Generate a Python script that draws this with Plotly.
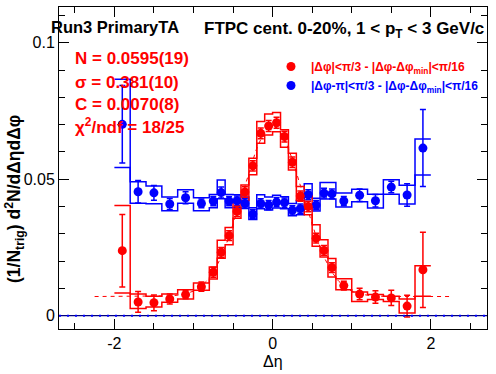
import numpy as np
import plotly.graph_objects as go

# ---------------- data ----------------
bin_edges = [-2.0, -1.8, -1.6, -1.4, -1.2, -1.0, -0.8, -0.7, -0.6, -0.5, -0.4, -0.3, -0.2, -0.1,
             0.0, 0.1, 0.2, 0.3, 0.4, 0.5, 0.6, 0.7, 0.8, 1.0, 1.2, 1.4, 1.6, 1.8, 2.0]

red_val = [0.0238, 0.0050, 0.0047, 0.0061, 0.0077, 0.0106, 0.0159, 0.0232, 0.0293, 0.0382,
           0.0453, 0.0549, 0.0668, 0.0695, 0.0707, 0.0656, 0.0562, 0.0438, 0.0400, 0.0284,
           0.0239, 0.0176, 0.0110, 0.0079, 0.0068, 0.0065, 0.0035, 0.0168]
red_err = [0.0133, 0.0038, 0.0029, 0.0018, 0.0015, 0.0017, 0.0018, 0.0018, 0.0018, 0.0019,
           0.0019, 0.0019, 0.0020, 0.0020, 0.0020, 0.0020, 0.0019, 0.0019, 0.0019, 0.0018,
           0.0018, 0.0018, 0.0016, 0.0021, 0.0023, 0.0028, 0.0040, 0.0138]
red_sys_up = [0.0166, 0.0029, 0.0024, 0.0018, 0.0018, 0.0014, 0.0019, 0.0044, 0.0030, 0.0036,
              0.0026, 0.0028, 0.0043, 0.0044, 0.0037, 0.0025, 0.0033, 0.0035, 0.0039, 0.0049,
              0.0039, 0.0033, 0.0025, 0.0008, 0.0009, 0.0006, 0.0026, 0.0015]
red_sys_dn = [0.0155, 0.0024, 0.0015, 0.0012, 0.0016, 0.0013, 0.0025, 0.0022, 0.0033, 0.0025,
              0.0031, 0.0033, 0.0036, 0.0033, 0.0033, 0.0039, 0.0028, 0.0016, 0.0030, 0.0030,
              0.0024, 0.0034, 0.0015, 0.0027, 0.0009, 0.0013, 0.0025, 0.0097]

blue_val = [0.0701, 0.0454, 0.0450, 0.0409, 0.0432, 0.0411, 0.0420, 0.0451, 0.0420, 0.0421,
            0.0411, 0.0372, 0.0411, 0.0405, 0.0416, 0.0414, 0.0386, 0.0392, 0.0443, 0.0405,
            0.0449, 0.0446, 0.0420, 0.0441, 0.0421, 0.0471, 0.0442, 0.0614]
blue_err = [0.0142, 0.0041, 0.0027, 0.0020, 0.0022, 0.0016, 0.0017, 0.0020, 0.0017, 0.0017,
            0.0017, 0.0017, 0.0017, 0.0017, 0.0017, 0.0017, 0.0017, 0.0017, 0.0018, 0.0017,
            0.0018, 0.0018, 0.0017, 0.0023, 0.0023, 0.0021, 0.0041, 0.0141]
blue_sys_up = [0.0165, 0.0037, 0.0025, 0.0026, 0.0029, 0.0021, 0.0024, 0.0046, 0.0024, 0.0022,
               0.0024, 0.0023, 0.0032, 0.0030, 0.0025, 0.0022, 0.0025, 0.0030, 0.0040, 0.0025,
               0.0039, 0.0042, 0.0029, 0.0022, 0.0024, 0.0027, 0.0036, 0.0033]
blue_sys_dn = [0.0158, 0.0042, 0.0040, 0.0025, 0.0020, 0.0027, 0.0025, 0.0023, 0.0025, 0.0024,
               0.0018, 0.0020, 0.0019, 0.0018, 0.0022, 0.0022, 0.0020, 0.0022, 0.0037, 0.0022,
               0.0022, 0.0019, 0.0022, 0.0024, 0.0027, 0.0026, 0.0033, 0.0099]

# fit parameters (Gaussian + constant) of the near-side peak
fit_N = 0.0595
fit_sigma = 0.381
fit_C = 0.0070
fit_range = [-2.25, 2.25]

x_ticks = [-2, 0, 2]
y_ticks = [0, 0.05, 0.1]

RED = "#ff0000"
BLUE = "#0000ff"
FONT = "Liberation Sans"

edges = np.array(bin_edges)
centers = 0.5 * (edges[:-1] + edges[1:])


def step_xy(vals):
    y = list(vals) + [vals[-1]]
    return list(edges), y


fig = go.Figure()


def add_sys(val, up, dn, color):
    val = np.array(val)
    for bound in (val + np.array(up), val - np.array(dn)):
        xs, ys = step_xy(list(bound))
        fig.add_trace(go.Scatter(x=xs, y=ys, mode="lines", line=dict(color=color, width=1.5, shape="hv"),
                                 showlegend=False, hoverinfo="skip"))


add_sys(blue_val, blue_sys_up, blue_sys_dn, BLUE)
add_sys(red_val, red_sys_up, red_sys_dn, RED)

# fit curve
xf = np.linspace(fit_range[0], fit_range[1], 600)
yf = fit_C + fit_N / (np.sqrt(2 * np.pi) * fit_sigma) * np.exp(-xf ** 2 / (2 * fit_sigma ** 2))
fig.add_trace(go.Scatter(x=xf, y=yf, mode="lines", line=dict(color=RED, width=1, dash="4px,4px"),
                         showlegend=False, hoverinfo="skip"))

lab_red = '<span style="color:#ff0000"><b>|Δφ|&lt;π/3 - |Δφ-Δφ<sub>min</sub>|&lt;π/16</b></span>'
lab_blue = '<span style="color:#0000ff"><b>|Δφ-π|&lt;π/3 - |Δφ-Δφ<sub>min</sub>|&lt;π/16</b></span>'

fig.add_trace(go.Scatter(x=centers, y=blue_val, mode="markers", name=lab_blue, legendrank=2,
                         marker=dict(color=BLUE, size=9, symbol="circle"),
                         error_y=dict(type="data", array=blue_err, color=BLUE, thickness=1.5, width=3)))
fig.add_trace(go.Scatter(x=centers, y=red_val, mode="markers", name=lab_red, legendrank=1,
                         marker=dict(color=RED, size=9, symbol="circle"),
                         error_y=dict(type="data", array=red_err, color=RED, thickness=1.5, width=3)))

# zero line
fig.add_shape(type="line", xref="paper", x0=0, x1=1, yref="y", y0=0, y1=0,
              line=dict(color="#000080", width=1.2))
fig.add_shape(type="line", xref="paper", x0=0, x1=1, yref="y", y0=0, y1=0,
              line=dict(color=BLUE, width=2, dash="2px,6px"))

L, R, T, B = 59, 9, 7, 45
W, H = 496, 374
PW, PH = W - L - R, H - T - B


def px(xpix):
    return (xpix - L) / PW


def py(ypix):
    return 1 - (ypix - T) / PH


annotations = []
annotations.append(dict(text="<b>Run3 PrimaryTA</b>", x=px(49), y=py(27), xref="paper", yref="paper",
                        xanchor="left", yanchor="middle", showarrow=False,
                        font=dict(family=FONT, size=16.5, color="black")))
annotations.append(dict(text="<b>FTPC cent. 0-20%, 1 &lt; p<sub>T</sub> &lt; 3 GeV/c</b>", x=px(486), y=py(30),
                        xref="paper", yref="paper", xanchor="right", yanchor="middle", showarrow=False,
                        font=dict(family=FONT, size=17, color="black")))
fit_lines = ["N = 0.0595(19)", "σ = 0.381(10)", "C = 0.0070(8)", "χ<sup>2</sup>/ndf = 18/25"]
fit_y = [59, 82, 104, 126]
for t, yy in zip(fit_lines, fit_y):
    annotations.append(dict(text="<b>" + t + "</b>", x=px(73), y=py(yy), xref="paper", yref="paper",
                            xanchor="left", yanchor="middle", showarrow=False,
                            font=dict(family=FONT, size=17, color=RED)))
annotations.append(dict(text="<b>(1/N<sub>trig</sub>) d<sup>2</sup>N/dΔηdΔφ</b>", x=px(14), y=py(199),
                        xref="paper", yref="paper", xanchor="center", yanchor="middle", textangle=-90,
                        showarrow=False, font=dict(family=FONT, size=17.5, color="black")))
annotations.append(dict(text="Δη", x=px(272.7), y=py(361), xref="paper", yref="paper",
                        xanchor="center", yanchor="middle", showarrow=False,
                        font=dict(family=FONT, size=16, color="black")))

axis_common = dict(showline=True, linecolor="black", linewidth=1, mirror="allticks", ticks="inside",
                   showgrid=False, zeroline=False, tickcolor="black", tickwidth=1, ticklen=10,
                   automargin=False,
                   tickfont=dict(family=FONT, size=16, color="black"))

fig.update_layout(
    width=W, height=H,
    margin=dict(l=L, r=R, t=T, b=B, autoexpand=False),
    paper_bgcolor="white", plot_bgcolor="white",
    xaxis=dict(range=[-2.70, 2.71], tickvals=x_ticks, ticktext=[str(v) for v in x_ticks],
               minor=dict(dtick=0.5, tick0=0, ticks="inside", ticklen=6, tickcolor="black", showgrid=False),
               **axis_common),
    yaxis=dict(range=[-0.0049, 0.1131], tickvals=y_ticks, ticktext=["0", "0.05", "0.1"],
               minor=dict(dtick=0.01, tick0=0, ticks="inside", ticklen=6, tickcolor="black", showgrid=False),
               **axis_common),
    showlegend=True,
    legend=dict(x=px(271), y=py(52), xref="paper", yref="paper", xanchor="left", yanchor="top",
                bgcolor="rgba(0,0,0,0)", font=dict(family=FONT, size=12), itemwidth=30,
                tracegroupgap=0),
    annotations=annotations,
)

fig.write_html("out.html", config={"displayModeBar": False},
               post_script="document.body.style.margin='0px';document.body.style.overflow='hidden';")
